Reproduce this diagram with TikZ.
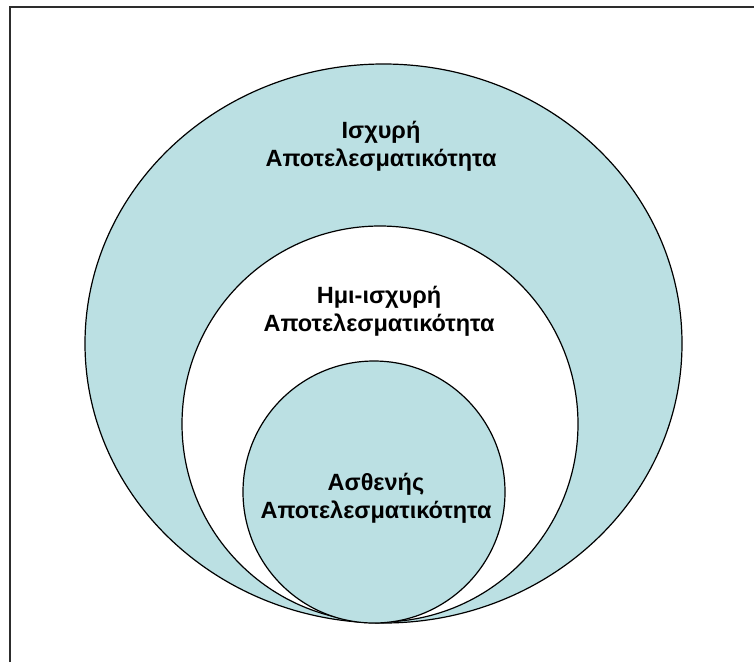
\documentclass[tikz,border=0pt]{standalone}
\usepackage{fontspec}
\setmainfont{Liberation Sans}
\definecolor{ringfill}{RGB}{187,224,227}
\definecolor{framegray}{RGB}{45,45,45}
\begin{document}
\begin{tikzpicture}[x=1pt,y=-1pt,
  ring/.style={draw=black,line width=1.2pt},
  label/.style={align=center,font=\fontsize{23.5}{28}\selectfont\bfseries,text=black}]
\useasboundingbox (0,0) rectangle (754,662);
% frame
\draw[framegray,line width=2pt] (10,662) -- (10,7) -- (754,7);
% nested regions
\draw[ring,fill=ringfill] (383.5,343.5) ellipse [x radius=298.5,y radius=279.5];
\draw[ring,fill=white] (380,424) circle [radius=198];
\draw[ring,fill=ringfill] (374,492) circle [radius=131];
% labels
\node[label] (strong) at (381,146) {Ισχυρή\\Αποτελεσματικότητα};
\node[label] (semi) at (379,311) {Ημι-ισχυρή\\Αποτελεσματικότητα};
\node[label] (weak) at (376,498) {Ασθενής\\Αποτελεσματικότητα};
\end{tikzpicture}
\end{document}
